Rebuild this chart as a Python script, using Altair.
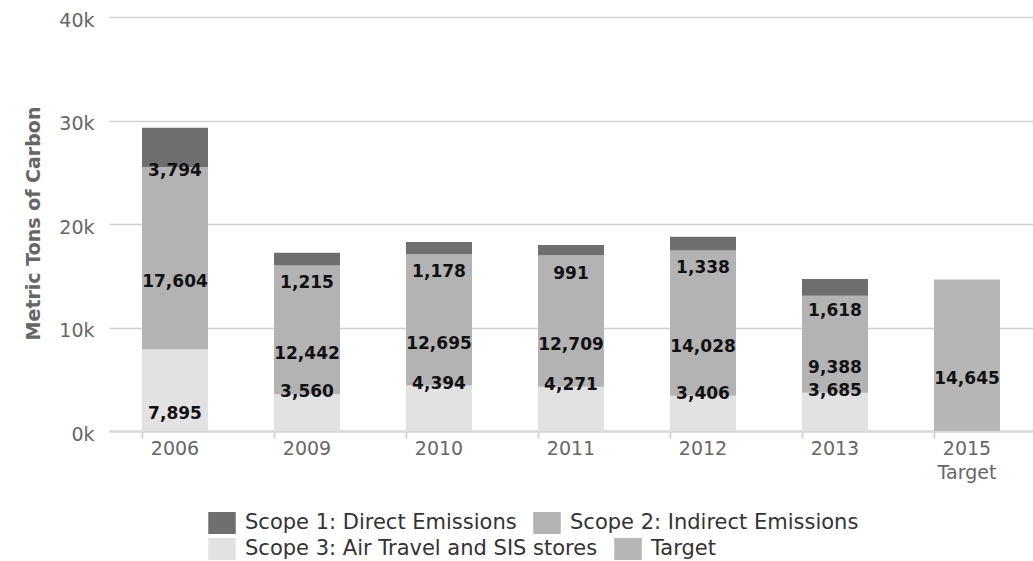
import altair as alt
import pandas as pd

# Carbon footprint by year, metric tons
years = ["2006", "2009", "2010", "2011", "2012", "2013", "2015"]
scope1 = [3794, 1215, 1178, 991, 1338, 1618, None]
scope2 = [17604, 12442, 12695, 12709, 14028, 9388, None]
scope3 = [7895, 3560, 4394, 4271, 3406, 3685, None]
target = [None, None, None, None, None, None, 14645]

S1 = "Scope 1: Direct Emissions"
S2 = "Scope 2: Indirect Emissions"
S3 = "Scope 3: Air Travel and SIS stores"
TG = "Target"
C1, C2, C3, CT = "#6f6f6f", "#b3b3b3", "#e2e2e2", "#b6b6b6"

# stack bottom-up: scope 3, scope 2, scope 1 (target stands alone)
rows = []
for i, yr in enumerate(years):
    base = 0
    for name, vals in [(S3, scope3), (S2, scope2), (S1, scope1), (TG, target)]:
        v = vals[i]
        if v is None:
            continue
        rows.append({"year": yr, "series": name, "value": v,
                     "start": base, "end": base + v, "mid": base + v / 2,
                     "row": 1 if name in (S1, S2) else 2,
                     "short": name == S3 and v < 6000})
        base += v
df = pd.DataFrame(rows)

FONT = "DejaVu Sans"

x_scale = alt.Scale(paddingInner=0.5, paddingOuter=0.25)
x_axis = alt.Axis(labelExpr="datum.value == '2015' ? ['2015', 'Target'] : datum.value",
                  labelAngle=0, labelFontSize=19, labelColor="#666", labelFont=FONT,
                  labelPadding=1, labelLineHeight=24, bandPosition=0,
                  tickSize=7, tickColor="#d4d4d4", tickWidth=2,
                  domainColor="#d8d8d8", domainWidth=2.5, grid=False)
x = alt.X("year:N", sort=years, title=None, scale=x_scale, axis=x_axis)

y_scale = alt.Scale(domain=[0, 40000], nice=False)
y_axis = alt.Axis(values=[0, 10000, 20000, 30000, 40000],
                  labelExpr="datum.value / 1000 + 'k'",
                  labelFontSize=19, labelColor="#666", labelFont=FONT,
                  labelPadding=15, labelOffset=3, ticks=False, domain=False,
                  gridColor="#d0d0d0", gridWidth=1.5,
                  titleFont=FONT, titleFontSize=19, titleFontWeight="bold",
                  titleColor="#666", titleX=-76, titleY=206, titleBaseline="middle")
Y_TITLE = "Metric Tons of Carbon"


def legend_row(ypos):
    return alt.Legend(title=None, orient="none", legendX=102, legendY=ypos,
                      direction="horizontal",
                      symbolType="M-1.25,-1H1.25V1H-1.25Z", symbolSize=484,
                      symbolStrokeWidth=0, symbolOpacity=1, labelLimit=0,
                      labelFont=FONT, labelFontSize=21, labelColor="#333",
                      labelOffset=12, columnPadding=16, padding=0)


# two bar layers, one per legend row
bars_top = alt.Chart(df).transform_filter("datum.row == 1").mark_bar().encode(
    x=x,
    y=alt.Y("start:Q", scale=y_scale, title=Y_TITLE, axis=y_axis),
    y2="end:Q",
    color=alt.Color("series:N", sort=[S1, S2],
                    scale=alt.Scale(domain=[S1, S2], range=[C1, C2]),
                    legend=legend_row(495)),
)

bars_bottom = alt.Chart(df).transform_filter("datum.row == 2").mark_bar().encode(
    x=x,
    y=alt.Y("start:Q", scale=y_scale, title=Y_TITLE, axis=y_axis),
    y2="end:Q",
    color=alt.Color("series:N", sort=[S3, TG],
                    scale=alt.Scale(domain=[S3, TG], range=[C3, CT]),
                    legend=legend_row(521)),
)

label_style = dict(font=FONT, fontSize=17, fontWeight="bold", color="#111", baseline="middle")

labels = alt.Chart(df).transform_filter("!datum.short").mark_text(dy=24, **label_style).encode(
    x=x,
    y=alt.Y("mid:Q", scale=y_scale, title=Y_TITLE, axis=y_axis),
    text=alt.Text("value:Q", format=","),
)

short_labels = alt.Chart(df).transform_filter("datum.short").mark_text(dy=-2, **label_style).encode(
    x=x,
    y=alt.Y("end:Q", scale=y_scale, title=Y_TITLE, axis=y_axis),
    text=alt.Text("value:Q", format=","),
)

chart = alt.layer(bars_bottom, bars_top, labels, short_labels).resolve_scale(
    color="independent"
).properties(
    width=924, height=414,
    background="white",
    autosize=alt.AutoSizeParams(type="none"),
    padding={"left": 109, "top": 17, "right": 0, "bottom": 130},
).configure_view(strokeWidth=0, stroke="transparent")

chart.save("out.html", embed_options={"renderer": "svg", "actions": False})
